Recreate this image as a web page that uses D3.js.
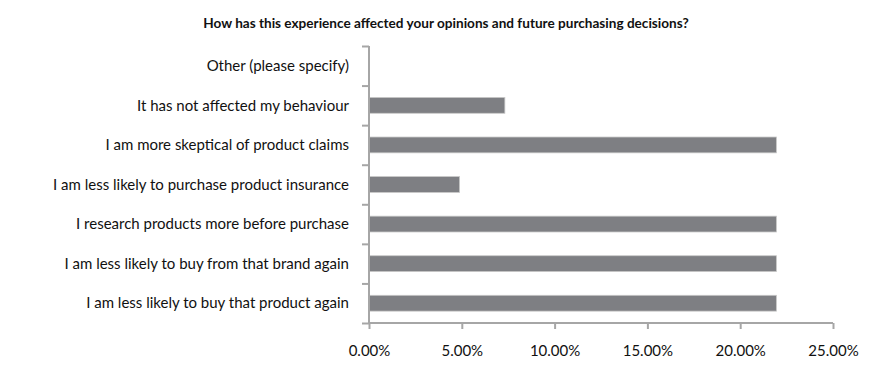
<!DOCTYPE html>
<html><head><meta charset="utf-8">
<script src="https://cdn.jsdelivr.net/npm/d3@7"></script>
<style>
html,body{margin:0;padding:0;background:#fff;}
svg{display:block;}
</style>
</head><body>
<svg id="chart" width="884" height="370"></svg>
<script>
const title = "How has this experience affected your opinions and future purchasing decisions?";
const categories = [
  "Other (please specify)",
  "It has not affected my behaviour",
  "I am more skeptical of product claims",
  "I am less likely to purchase product insurance",
  "I research products more before purchase",
  "I am less likely to buy from that brand again",
  "I am less likely to buy that product again"
];
const values = [0, 0.0732, 0.2195, 0.0488, 0.2195, 0.2195, 0.2195];
const xTicks = [0, 0.05, 0.10, 0.15, 0.20, 0.25];

const FONT = "Lato, 'Open Sans', sans-serif";
const svg = d3.select("#chart");
const margin = {left: 369, right: 51, top: 46, bottom: 47};
const W = 884, H = 370;

const x = d3.scaleLinear().domain([0, 0.25]).range([margin.left, W - margin.right]);
const y = d3.scaleBand().domain(categories).range([margin.top, H - margin.bottom]).paddingInner(0.6).paddingOuter(0.3);

// bars
svg.append("g").selectAll("rect").data(categories).join("rect")
  .attr("x", x(0))
  .attr("y", d => y(d))
  .attr("width", (d, i) => x(values[i]) - x(0))
  .attr("height", y.bandwidth())
  .attr("fill", "#7e7f83")
  .attr("stroke", "#c8c8c8")
  .attr("stroke-width", 0.8);

const axisColor = "#a6a6a6";
// y axis
const yAxis = svg.append("g").attr("transform", `translate(${x(0)},0)`)
  .call(d3.axisLeft(d3.scaleLinear().domain([0, categories.length]).range([H - margin.bottom, margin.top]))
    .tickValues(d3.range(0, categories.length + 1)).tickSize(7).tickFormat(""));
yAxis.select(".domain").attr("stroke", axisColor).attr("stroke-width", 2).attr("d", `M0,${margin.top}V${H - margin.bottom}`);
yAxis.selectAll(".tick line").attr("stroke", axisColor).attr("stroke-width", 2);

// category labels
const labels = svg.append("g").selectAll("text").data(categories).join("text")
  .attr("x", 349)
  .attr("y", d => y(d) + y.bandwidth() / 2)
  .attr("dy", "0.35em")
  .attr("text-anchor", "end")
  .attr("font-family", FONT)
  .attr("font-size", 14)
  .attr("fill", "#111")
  .text(d => d);
let maxW = 0;
labels.each(function(){ maxW = Math.max(maxW, this.getComputedTextLength()); });
const labelSize = 14 * 296 / maxW;
labels.attr("font-size", labelSize);

// x axis
const xAxis = svg.append("g").attr("transform", `translate(0,${H - margin.bottom})`)
  .call(d3.axisBottom(x).tickValues(xTicks).tickSize(6).tickPadding(16).tickFormat(d3.format(".2%")));
xAxis.select(".domain").attr("stroke", axisColor).attr("stroke-width", 2).attr("d", `M${x(0)},0H${x(0.25)}`);
xAxis.selectAll(".tick line").attr("stroke", axisColor).attr("stroke-width", 2);
xAxis.selectAll(".tick text").attr("font-family", FONT).attr("font-size", labelSize).attr("fill", "#111");

// title
const t = svg.append("text")
  .attr("x", 446).attr("y", 28)
  .attr("text-anchor", "middle")
  .attr("font-family", FONT)
  .attr("font-weight", "bold")
  .attr("font-size", 12)
  .attr("fill", "#111")
  .text(title);
const tw = t.node().getComputedTextLength();
t.attr("font-size", 12 * 486 / tw);
</script>
</body></html>
